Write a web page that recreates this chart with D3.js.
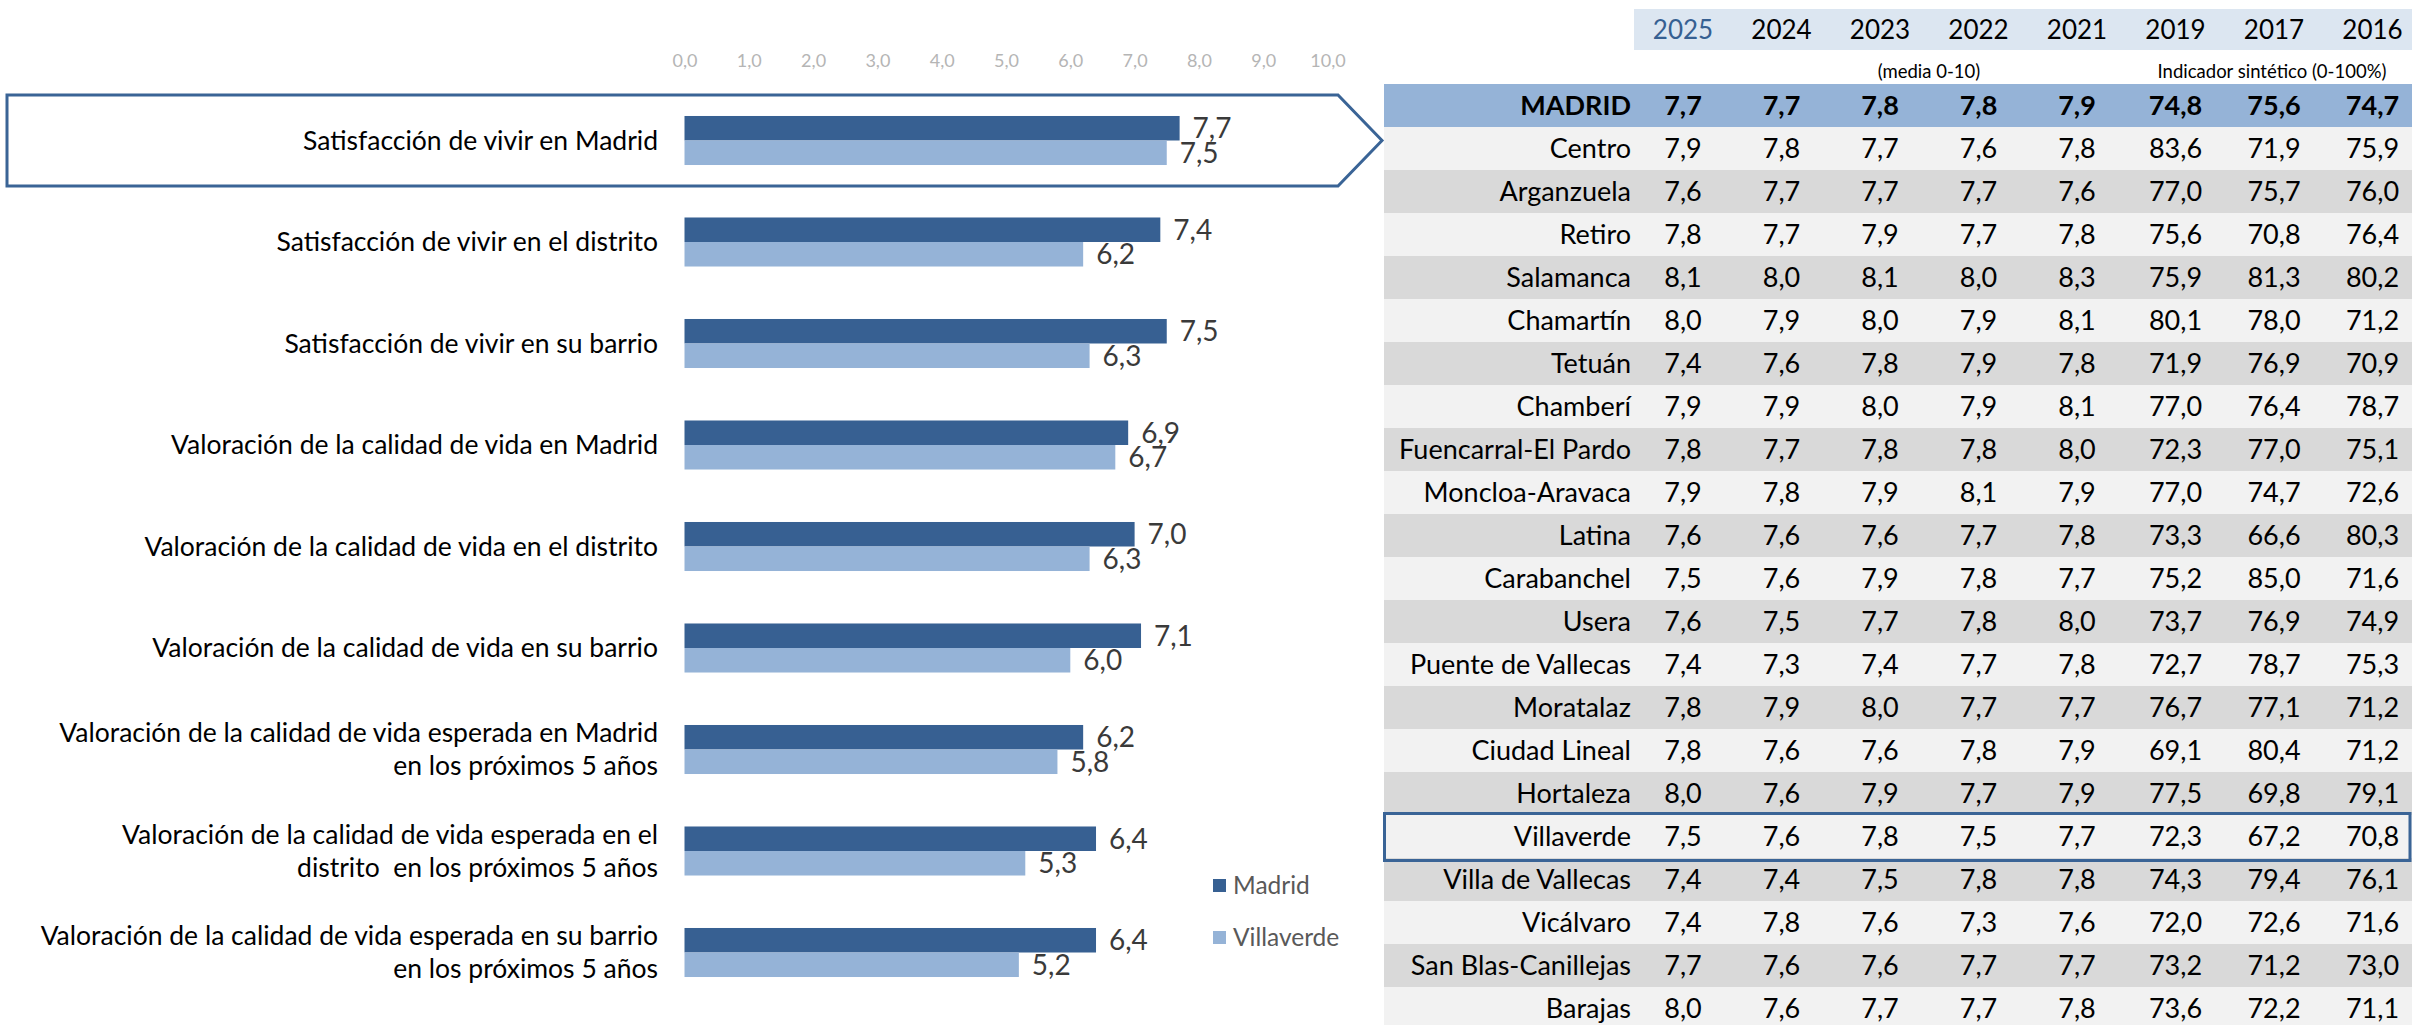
<!DOCTYPE html>
<html>
<head>
<meta charset="utf-8">
<script src="https://cdn.jsdelivr.net/npm/d3@7"></script>
<style>
  body { margin: 0; background: #fff; }
  svg { display: block; font-family: Lato, "Open Sans", sans-serif; }
</style>
</head>
<body>
<svg id="chart" width="2412" height="1025"></svg>
<script>
// chart data
const categories = [
  ["Satisfacción de vivir en Madrid"],
  ["Satisfacción de vivir en el distrito"],
  ["Satisfacción de vivir en su barrio"],
  ["Valoración de la calidad de vida en Madrid"],
  ["Valoración de la calidad de vida en el distrito"],
  ["Valoración de la calidad de vida en su barrio"],
  ["Valoración de la calidad de vida esperada en Madrid", "en los próximos 5 años"],
  ["Valoración de la calidad de vida esperada en el", "distrito  en los próximos 5 años"],
  ["Valoración de la calidad de vida esperada en su barrio", "en los próximos 5 años"]
];
const seriesNames = ["Madrid", "Villaverde"];
const madrid = [7.7, 7.4, 7.5, 6.9, 7.0, 7.1, 6.2, 6.4, 6.4];
const villaverde = [7.5, 6.2, 6.3, 6.7, 6.3, 6.0, 5.8, 5.3, 5.2];
const xTicks = [0, 1, 2, 3, 4, 5, 6, 7, 8, 9, 10];

// table data
const years = ["2025", "2024", "2023", "2022", "2021", "2019", "2017", "2016"];
const rowNames = ["MADRID", "Centro", "Arganzuela", "Retiro", "Salamanca", "Chamartín", "Tetuán",
  "Chamberí", "Fuencarral-El Pardo", "Moncloa-Aravaca", "Latina", "Carabanchel", "Usera",
  "Puente de Vallecas", "Moratalaz", "Ciudad Lineal", "Hortaleza", "Villaverde",
  "Villa de Vallecas", "Vicálvaro", "San Blas-Canillejas", "Barajas"];
const rowValues = [
  [7.7, 7.7, 7.8, 7.8, 7.9, 74.8, 75.6, 74.7],
  [7.9, 7.8, 7.7, 7.6, 7.8, 83.6, 71.9, 75.9],
  [7.6, 7.7, 7.7, 7.7, 7.6, 77.0, 75.7, 76.0],
  [7.8, 7.7, 7.9, 7.7, 7.8, 75.6, 70.8, 76.4],
  [8.1, 8.0, 8.1, 8.0, 8.3, 75.9, 81.3, 80.2],
  [8.0, 7.9, 8.0, 7.9, 8.1, 80.1, 78.0, 71.2],
  [7.4, 7.6, 7.8, 7.9, 7.8, 71.9, 76.9, 70.9],
  [7.9, 7.9, 8.0, 7.9, 8.1, 77.0, 76.4, 78.7],
  [7.8, 7.7, 7.8, 7.8, 8.0, 72.3, 77.0, 75.1],
  [7.9, 7.8, 7.9, 8.1, 7.9, 77.0, 74.7, 72.6],
  [7.6, 7.6, 7.6, 7.7, 7.8, 73.3, 66.6, 80.3],
  [7.5, 7.6, 7.9, 7.8, 7.7, 75.2, 85.0, 71.6],
  [7.6, 7.5, 7.7, 7.8, 8.0, 73.7, 76.9, 74.9],
  [7.4, 7.3, 7.4, 7.7, 7.8, 72.7, 78.7, 75.3],
  [7.8, 7.9, 8.0, 7.7, 7.7, 76.7, 77.1, 71.2],
  [7.8, 7.6, 7.6, 7.8, 7.9, 69.1, 80.4, 71.2],
  [8.0, 7.6, 7.9, 7.7, 7.9, 77.5, 69.8, 79.1],
  [7.5, 7.6, 7.8, 7.5, 7.7, 72.3, 67.2, 70.8],
  [7.4, 7.4, 7.5, 7.8, 7.8, 74.3, 79.4, 76.1],
  [7.4, 7.8, 7.6, 7.3, 7.6, 72.0, 72.6, 71.6],
  [7.7, 7.6, 7.6, 7.7, 7.7, 73.2, 71.2, 73.0],
  [8.0, 7.6, 7.7, 7.7, 7.8, 73.6, 72.2, 71.1]
];
const highlightRow = "Villaverde";

const colors = { Madrid: "#376092", Villaverde: "#95b3d7" };
const boxColor = "#3a6496";

const esLocale = d3.formatLocale({ decimal: ",", thousands: ".", grouping: [3], currency: ["", "€"] });
const fmt = esLocale.format(".1f");

const svg = d3.select("#chart");

// ---------- bar chart ----------
const x = d3.scaleLinear().domain([0, 10]).range([684.5, 1327.5]);

const y = d3.scaleBand()
  .domain(d3.range(categories.length))
  .range([89.75, 1003.25])
  .paddingInner(0.517)
  .paddingOuter(0.2585);

const ySub = d3.scaleBand().domain(seriesNames).range([0, y.bandwidth()]);

// highlight arrow around the first category
const b0 = y(0) + y.bandwidth() / 2;
svg.append("path")
  .attr("d", `M7,${b0 - 45.5} L1338,${b0 - 45.5} L1382,${b0} L1338,${b0 + 45.5} L7,${b0 + 45.5} Z`)
  .attr("fill", "#fff")
  .attr("stroke", boxColor)
  .attr("stroke-width", 3);

// top axis labels
const xAxis = svg.append("g")
  .attr("class", "x_axis_g")
  .attr("transform", "translate(0, 70)")
  .call(d3.axisTop(x).tickValues(xTicks).tickSize(0).tickFormat(fmt));
xAxis.select(".domain").remove();
xAxis.selectAll("text")
  .attr("font-family", "Lato, sans-serif")
  .attr("font-size", 18)
  .attr("fill", "#b5b5b5");

const groups = svg.selectAll(".cat")
  .data(categories.map((c, i) => ({ i, label: c, values: [madrid[i], villaverde[i]] })))
  .join("g")
  .attr("class", "cat")
  .attr("transform", d => `translate(0, ${y(d.i)})`);

groups.selectAll("rect")
  .data(d => d.values.map((v, k) => ({ name: seriesNames[k], v })))
  .join("rect")
  .attr("x", x(0))
  .attr("y", d => ySub(d.name))
  .attr("width", d => x(d.v) - x(0))
  .attr("height", ySub.bandwidth())
  .attr("fill", d => colors[d.name]);

groups.selectAll(".val")
  .data(d => d.values.map((v, k) => ({ name: seriesNames[k], v })))
  .join("text")
  .attr("class", "val")
  .attr("x", d => x(d.v) + 13)
  .attr("y", d => ySub(d.name) + ySub.bandwidth() / 2)
  .attr("dy", "0.36em")
  .attr("font-size", 28)
  .attr("fill", "#3a3a3a")
  .text(d => fmt(d.v));

groups.each(function (d) {
  const g = d3.select(this);
  const mid = y.bandwidth() / 2;
  const lh = 33;
  const n = d.label.length;
  const t = g.append("text")
    .attr("text-anchor", "end")
    .attr("font-size", 26.5)
    .attr("fill", "#000")
    .style("white-space", "pre");
  d.label.forEach((line, k) => {
    t.append("tspan")
      .attr("x", 658)
      .attr("y", mid + (k - (n - 1) / 2) * lh)
      .attr("dy", "0.35em")
      .text(line);
  });
});

// legend
const legend = svg.append("g").attr("class", "legend");
seriesNames.forEach((name, k) => {
  const ly = 885.5 + k * 52;
  legend.append("rect")
    .attr("x", 1213).attr("y", ly - 6.5)
    .attr("width", 13).attr("height", 13)
    .attr("fill", colors[name]);
  legend.append("text")
    .attr("x", 1233).attr("y", ly)
    .attr("dy", "0.35em")
    .attr("font-size", 24.5)
    .attr("fill", "#595959")
    .text(name);
});

// ---------- table ----------
const col = d3.scalePoint().domain(years).range([1683, 2372.5]);
const row = d3.scaleBand().domain(rowNames).range([84, 84 + rowNames.length * 43]);

// header band
svg.append("rect")
  .attr("x", 1634).attr("y", 9)
  .attr("width", 2412 - 1634).attr("height", 41)
  .attr("fill", "#dce6f1");

svg.selectAll(".year")
  .data(years)
  .join("text")
  .attr("class", "year")
  .attr("x", d => col(d))
  .attr("y", 30)
  .attr("dy", "0.35em")
  .attr("text-anchor", "middle")
  .attr("font-size", 26)
  .attr("fill", (d, i) => i === 0 ? "#366092" : "#000")
  .text(d => d);

svg.append("text")
  .attr("x", 1929).attr("y", 72).attr("dy", "0.35em")
  .attr("text-anchor", "middle").attr("font-size", 18.5).attr("fill", "#000")
  .text("(media 0-10)");
svg.append("text")
  .attr("x", 2272).attr("y", 72).attr("dy", "0.35em")
  .attr("text-anchor", "middle").attr("font-size", 18.5).attr("fill", "#000")
  .text("Indicador sintético (0-100%)");

const rows = svg.selectAll(".trow")
  .data(rowNames.map((name, i) => ({ name, i, values: rowValues[i] })))
  .join("g")
  .attr("class", "trow")
  .attr("transform", d => `translate(0, ${row(d.name)})`);

rows.append("rect")
  .attr("x", 1384)
  .attr("width", 2412 - 1384)
  .attr("height", row.bandwidth())
  .attr("fill", d => d.i === 0 ? "#95b3d7" : (d.i % 2 === 1 ? "#f2f2f2" : "#d9d9d9"));

rows.append("text")
  .attr("x", 1631)
  .attr("y", row.bandwidth() / 2)
  .attr("dy", "0.35em")
  .attr("text-anchor", "end")
  .attr("font-size", 27)
  .attr("font-weight", d => d.i === 0 ? "bold" : "normal")
  .attr("fill", "#000")
  .text(d => d.name);

rows.selectAll(".cell")
  .data(d => d.values.map((v, k) => ({ v, year: years[k], bold: d.i === 0 })))
  .join("text")
  .attr("class", "cell")
  .attr("x", d => col(d.year))
  .attr("y", row.bandwidth() / 2)
  .attr("dy", "0.35em")
  .attr("text-anchor", "middle")
  .attr("font-size", 27)
  .attr("font-weight", d => d.bold ? "bold" : "normal")
  .attr("fill", "#000")
  .text(d => fmt(d.v));

// highlighted district row
svg.append("rect")
  .attr("x", 1384.5)
  .attr("y", row(highlightRow) - 1.5)
  .attr("width", 2410 - 1384.5)
  .attr("height", row.bandwidth() + 4)
  .attr("fill", "none")
  .attr("stroke", boxColor)
  .attr("stroke-width", 3);
</script>
</body>
</html>
